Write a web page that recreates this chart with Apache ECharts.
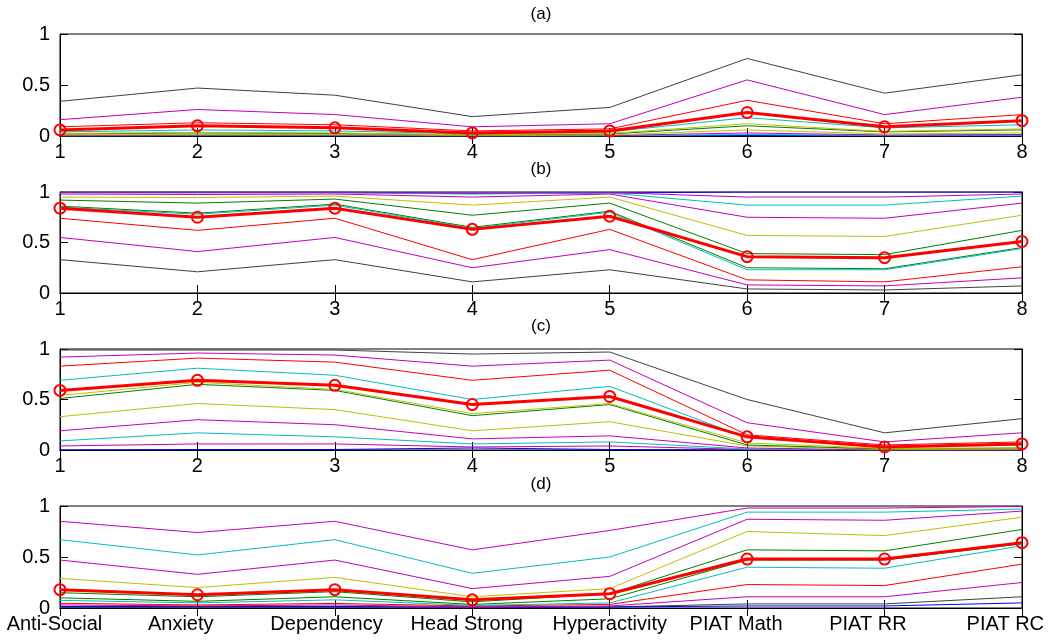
<!DOCTYPE html>
<html>
<head>
<meta charset="utf-8">
<script src="https://cdn.jsdelivr.net/npm/echarts@6/dist/echarts.min.js"></script>
<style>
  html, body { margin: 0; padding: 0; background: #fff; }
  #chart { width: 1050px; height: 640px; }
</style>
</head>
<body>
<div id="chart"></div>
<script>
// x tick labels
const xTicks = ['1', '2', '3', '4', '5', '6', '7', '8']
const traitNames = ['Anti-Social', 'Anxiety', 'Dependency', 'Head Strong', 'Hyperactivity', 'PIAT Math', 'PIAT RR', 'PIAT RC']
const yTicks = [0, 0.5, 1]
const panelTitles = ['(a)', '(b)', '(c)', '(d)']

// matlab style colours
const K = '#404040', M = '#bf00bf', R = '#ff0000', C = '#00bfbf', G = '#008000', Y = '#bfbf00', B = '#0000ff'

// panel (a)
const aColors = [B, C, M, Y, G, Y, C, R, M, K]
const aLines = [
  [0, 0, 0, 0, 0, 0.005, 0, 0],
  [0, 0.005, 0.005, 0, 0, 0.015, 0.005, 0.008],
  [0.005, 0.01, 0.01, 0, 0.005, 0.03, 0.01, 0.015],
  [0.01, 0.015, 0.015, 0.005, 0.01, 0.06, 0.02, 0.03],
  [0.02, 0.03, 0.025, 0.01, 0.02, 0.1, 0.04, 0.06],
  [0.025, 0.035, 0.03, 0.01, 0.025, 0.12, 0.045, 0.07],
  [0.04, 0.06, 0.05, 0.02, 0.04, 0.18, 0.08, 0.11],
  [0.09, 0.13, 0.11, 0.05, 0.07, 0.35, 0.12, 0.21],
  [0.16, 0.26, 0.21, 0.09, 0.12, 0.55, 0.21, 0.38],
  [0.34, 0.47, 0.4, 0.19, 0.28, 0.76, 0.42, 0.6]
]
const aFit = [0.06, 0.1, 0.08, 0.03, 0.05, 0.23, 0.09, 0.15]

// panel (b)
const bColors = [B, K, M, R, G, C, G, Y, M, C, M]
const bLines = [
  [1, 1, 1, 0.985, 0.99, 1, 1, 1],
  [0.33, 0.21, 0.33, 0.11, 0.23, 0.04, 0.03, 0.07],
  [0.55, 0.41, 0.55, 0.25, 0.43, 0.08, 0.07, 0.15],
  [0.74, 0.62, 0.74, 0.33, 0.63, 0.13, 0.11, 0.26],
  [0.86, 0.79, 0.88, 0.65, 0.81, 0.25, 0.24, 0.45],
  [0.85, 0.78, 0.87, 0.64, 0.8, 0.23, 0.23, 0.44],
  [0.92, 0.89, 0.93, 0.77, 0.89, 0.39, 0.38, 0.62],
  [0.95, 0.945, 0.96, 0.87, 0.95, 0.57, 0.56, 0.77],
  [0.98, 0.975, 0.98, 0.95, 0.98, 0.75, 0.74, 0.89],
  [0.99, 0.99, 0.99, 0.98, 0.99, 0.87, 0.87, 0.96],
  [0.995, 0.995, 0.995, 0.99, 0.995, 0.95, 0.95, 0.98]
]
const bFit = [0.84, 0.75, 0.84, 0.63, 0.76, 0.36, 0.35, 0.51]

// panel (c)
const cColors = [B, M, C, M, Y, G, Y, C, R, M, K]
const cLines = [
  [0, 0.005, 0.005, 0.02, 0.005, 0, 0, 0],
  [0.04, 0.06, 0.06, 0.03, 0.04, 0.005, 0, 0],
  [0.09, 0.17, 0.13, 0.06, 0.08, 0.01, 0, 0],
  [0.19, 0.3, 0.25, 0.11, 0.14, 0.02, 0, 0.005],
  [0.33, 0.46, 0.4, 0.19, 0.28, 0.04, 0.005, 0.01],
  [0.51, 0.65, 0.59, 0.34, 0.45, 0.05, 0.01, 0.02],
  [0.54, 0.67, 0.6, 0.36, 0.46, 0.07, 0.015, 0.02],
  [0.69, 0.81, 0.74, 0.5, 0.63, 0.12, 0.03, 0.05],
  [0.83, 0.91, 0.87, 0.69, 0.79, 0.15, 0.05, 0.08],
  [0.92, 0.96, 0.94, 0.83, 0.89, 0.27, 0.08, 0.17],
  [0.99, 0.99, 0.99, 0.95, 0.97, 0.5, 0.17, 0.31]
]
const cFit = [0.59, 0.69, 0.64, 0.45, 0.53, 0.13, 0.03, 0.06]

// panel (d)
const dColors = [K, B, M, R, C, G, G, Y, M, C, M]
const dLines = [
  [0.005, 0.005, 0.005, 0, 0.01, 0.04, 0.04, 0.11],
  [0.015, 0.015, 0.015, 0.01, 0.01, 0.02, 0.02, 0.05],
  [0.03, 0.02, 0.03, 0.01, 0.02, 0.11, 0.11, 0.25],
  [0.046, 0.03, 0.045, 0.02, 0.035, 0.23, 0.22, 0.43],
  [0.075, 0.05, 0.08, 0.025, 0.05, 0.4, 0.39, 0.61],
  [0.1, 0.065, 0.11, 0.035, 0.09, 0.47, 0.47, 0.63],
  [0.15, 0.11, 0.16, 0.06, 0.14, 0.57, 0.56, 0.77],
  [0.29, 0.2, 0.3, 0.11, 0.19, 0.75, 0.71, 0.89],
  [0.47, 0.33, 0.47, 0.19, 0.31, 0.87, 0.86, 0.95],
  [0.67, 0.52, 0.67, 0.34, 0.5, 0.94, 0.94, 0.97],
  [0.85, 0.74, 0.85, 0.57, 0.76, 0.98, 0.98, 0.995]
]
const dFit = [0.18, 0.13, 0.18, 0.08, 0.14, 0.48, 0.48, 0.64]

const panels = [
  { lines: aLines, colors: aColors, fit: aFit, labels: xTicks },
  { lines: bLines, colors: bColors, fit: bFit, labels: xTicks },
  { lines: cLines, colors: cColors, fit: cFit, labels: xTicks },
  // matlab pads the char matrix with trailing blanks, which shifts the labels left
  { lines: dLines, colors: dColors, fit: dFit, labels: traitNames.map(s => s.padEnd(13, ' ')) }
]
const gridTops = [34, 192, 349, 506]
const gridHeights = [102, 101, 101, 102]
const titleYs = [14, 169, 326, 484]

const font = 'Liberation Sans, Arial, sans-serif'
const black = '#000'

let chart = echarts.init(document.getElementById('chart'))

let grid = [], xAxis = [], yAxis = [], series = [], graphic = []
panels.forEach((p, i) => {
  grid.push({
    left: 60, width: 962, top: gridTops[i], height: gridHeights[i],
    containLabel: false, outerBoundsMode: 'none',
    show: true, borderColor: black, borderWidth: 1, backgroundColor: '#fff'
  })
  let tick = { show: true, inside: true, length: 8, lineStyle: { color: black, width: 1 } }
  xAxis.push({
    gridIndex: i, type: 'category', boundaryGap: false, data: p.labels,
    axisLine: { show: true, lineStyle: { color: black, width: 1 } },
    axisTick: Object.assign({ interval: 0 }, tick),
    axisLabel: { interval: 0, fontSize: 20, color: black, margin: 6, fontFamily: font, hideOverlap: false },
    splitLine: { show: false }
  })
  xAxis.push({
    gridIndex: i, type: 'category', position: 'top', boundaryGap: false, data: p.labels,
    axisLine: { show: true, lineStyle: { color: black, width: 1 } },
    axisTick: Object.assign({ interval: 0 }, tick),
    axisLabel: { show: false },
    splitLine: { show: false }
  })
  yAxis.push({
    gridIndex: i, type: 'value', min: yTicks[0], max: yTicks[yTicks.length - 1], interval: 0.5,
    axisLine: { show: true, lineStyle: { color: black, width: 1 } },
    axisTick: tick,
    axisLabel: { fontSize: 20, color: black, margin: 10, fontFamily: font },
    splitLine: { show: false }
  })
  yAxis.push({
    gridIndex: i, type: 'value', position: 'right', min: yTicks[0], max: yTicks[yTicks.length - 1], interval: 0.5,
    axisLine: { show: true, lineStyle: { color: black, width: 1 } },
    axisTick: tick,
    axisLabel: { show: false },
    splitLine: { show: false }
  })
  p.lines.forEach((vals, j) => {
    series.push({
      type: 'line', xAxisIndex: 2 * i, yAxisIndex: 2 * i, data: vals,
      symbol: 'none', silent: true, animation: false,
      lineStyle: { color: p.colors[j], width: 1 }
    })
  })
  series.push({
    type: 'line', xAxisIndex: 2 * i, yAxisIndex: 2 * i, data: p.fit,
    symbol: 'circle', symbolSize: 11, clip: false, silent: true, animation: false,
    lineStyle: { color: R, width: 3 },
    itemStyle: { color: 'rgba(0,0,0,0)', borderColor: R, borderWidth: 2 }
  })
  graphic.push({
    type: 'text', x: 541, y: titleYs[i], z: 100,
    style: { text: panelTitles[i], fill: black, font: '17px ' + font, textAlign: 'center', textVerticalAlign: 'middle' }
  })
})

chart.setOption({
  backgroundColor: '#fff',
  animation: false,
  grid, xAxis, yAxis, series, graphic
})
</script>
</body>
</html>
